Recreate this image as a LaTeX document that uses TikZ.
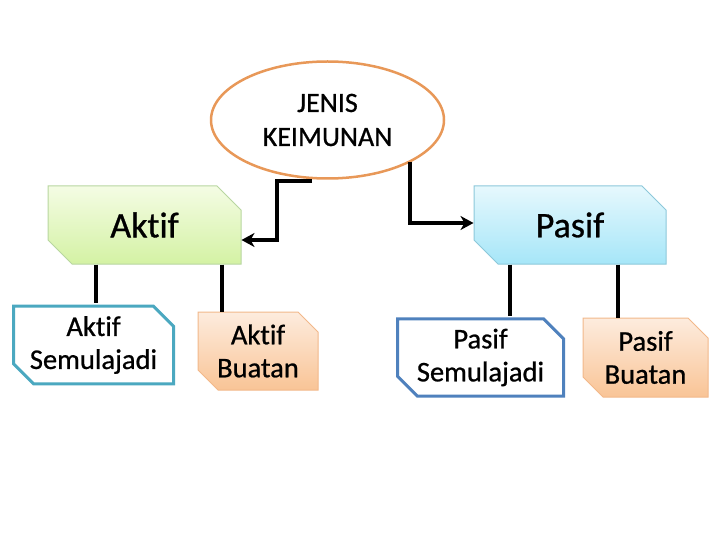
\documentclass[tikz,border=0pt]{standalone}
\usepackage{fontspec}
\setmainfont[Ligatures=NoCommon,FakeBold=0.8]{Carlito}
\usetikzlibrary{shapes.geometric,shapes.misc,arrows.meta}
\definecolor{ellline}{RGB}{232,152,88}
\definecolor{grtop}{RGB}{244,252,228}
\definecolor{grbot}{RGB}{212,242,164}
\definecolor{grline}{RGB}{184,214,160}
\definecolor{bltop}{RGB}{230,248,253}
\definecolor{blbot}{RGB}{166,230,248}
\definecolor{blline}{RGB}{140,200,218}
\definecolor{ortop}{RGB}{253,236,222}
\definecolor{orbot}{RGB}{249,196,150}
\definecolor{orline}{RGB}{242,184,138}
\definecolor{tealline}{RGB}{75,168,192}
\definecolor{steelline}{RGB}{79,129,189}
\begin{document}
\begin{tikzpicture}[x=1pt,y=-1pt,
  snip/.style={chamfered rectangle, chamfered rectangle corners={north east,south west},
    chamfered rectangle xsep=10pt, chamfered rectangle ysep=10pt, inner sep=0pt,
    align=center, text=black},
  bigbox/.style={snip, font=\fontsize{36}{40}\selectfont, line width=1pt, chamfered rectangle xsep=12pt, chamfered rectangle ysep=12pt},
  greenbox/.style={bigbox, draw=grline, top color=grtop, bottom color=grbot},
  bluebox/.style={bigbox, draw=blline, top color=bltop, bottom color=blbot},
  smallbox/.style={snip, font=\fontsize{28.5}{33}\selectfont},
  orbox/.style={smallbox, draw=orline, line width=1pt, top color=ortop, bottom color=orbot},
  whitebox/.style={smallbox, fill=white, line width=3pt},
  link/.style={line width=4pt, black},
  arr/.style={link, -{Stealth[length=13pt,width=14pt,inset=4pt]}}
]
\useasboundingbox (0,0) rectangle (720,540);
\node[ellipse, draw=ellline, line width=2.5pt, fill=white, minimum width=233pt, minimum height=117pt,
  align=center, inner sep=0pt, font=\fontsize{28}{34}\selectfont] (top) at (327.5,120) {JENIS\\KEIMUNAN};
\node[greenbox, minimum width=193pt, minimum height=78pt] (aktif) at (144.5,225) {Aktif};
\node[bluebox, minimum width=192pt, minimum height=78pt] (pasif) at (570,225) {Pasif};
\node[whitebox, draw=tealline, minimum width=160pt, minimum height=77pt] (as) at (93.5,345) {Aktif\\Semulajadi};
\node[orbox, minimum width=120pt, minimum height=78pt] (ab) at (258,351) {Aktif\\Buatan};
\node[whitebox, draw=steelline, minimum width=166pt, minimum height=76pt] (ps) at (480.5,357.5) {Pasif\\Semulajadi};
\node[orbox, minimum width=125pt, minimum height=79pt] (pb) at (645.5,357.5) {Pasif\\Buatan};
\coordinate (l1) at (312,181);
\coordinate (r1) at (410,162);
\draw[arr] (l1) -- ++(-35,0) |- ([yshift=-15pt]aktif.east);
\draw[arr] (r1) |- ([yshift=2pt]pasif.west);
\draw[link] (aktif.south -| 96,0) -- ([yshift=1.5pt]as.north -| 96,0);
\draw[link] (aktif.south -| 222,0) -- (ab.north -| 222,0);
\draw[link] (pasif.south -| 510,0) -- ([yshift=1.5pt]ps.north -| 510,0);
\draw[link] (pasif.south -| 618,0) -- (pb.north -| 618,0);
\end{tikzpicture}
\end{document}
